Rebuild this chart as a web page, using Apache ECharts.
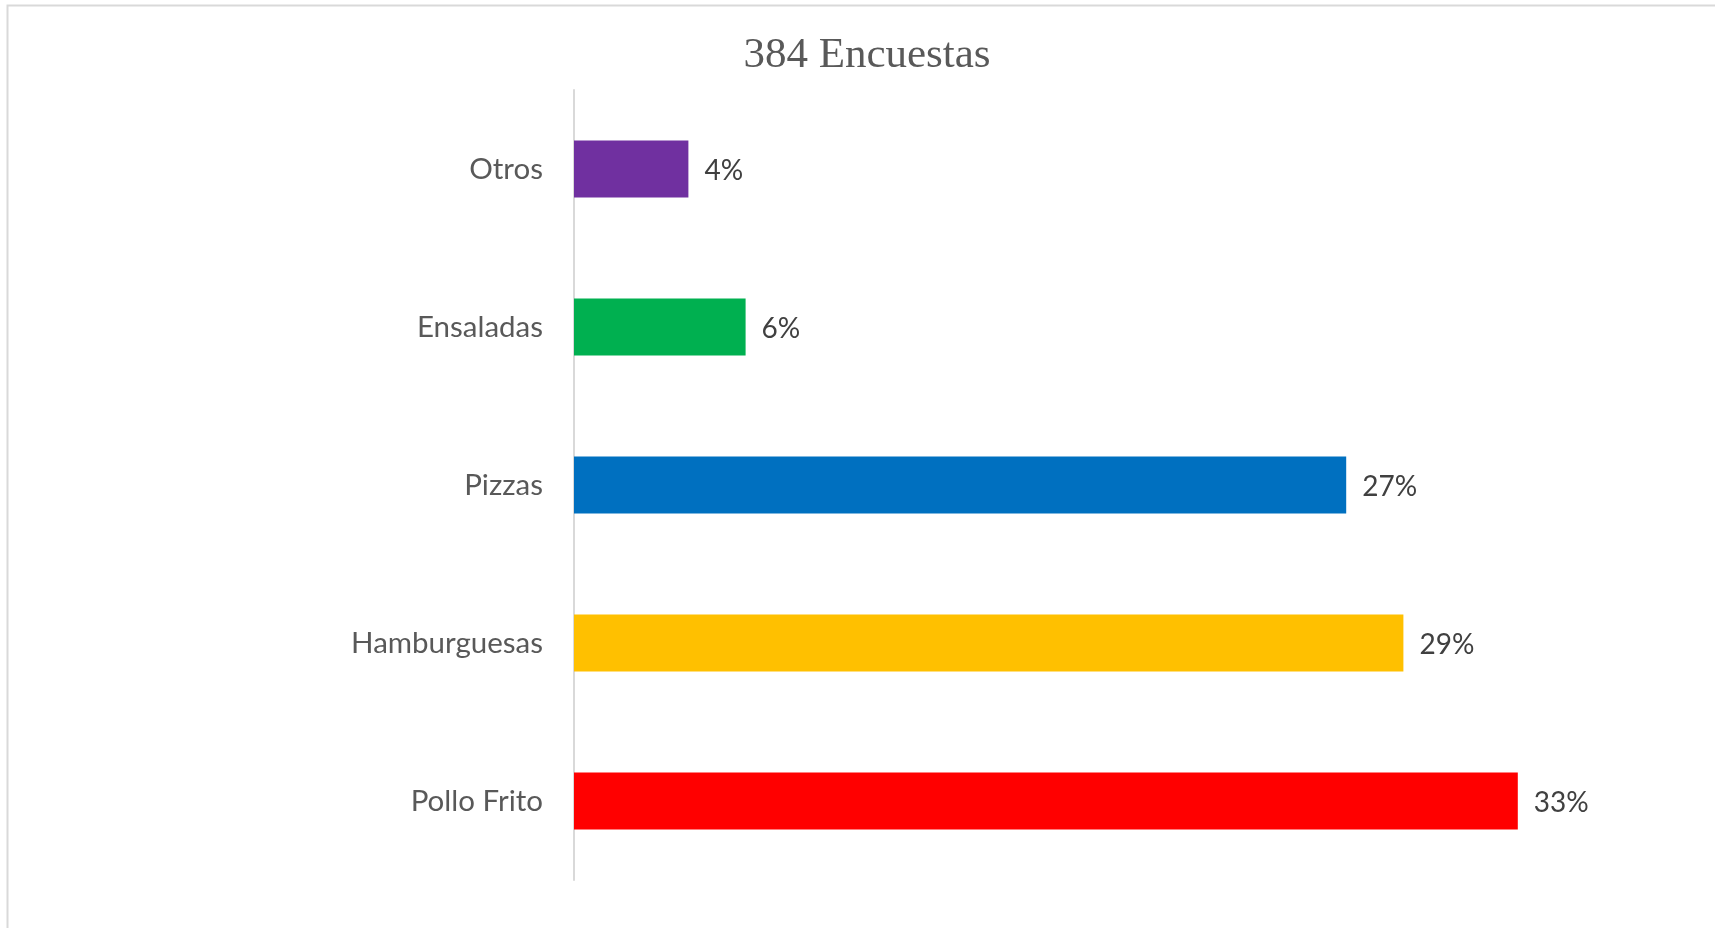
<!DOCTYPE html>
<html>
<head>
<meta charset="utf-8">
<script src="https://cdn.jsdelivr.net/npm/echarts@6/dist/echarts.min.js"></script>
<style>
  html, body { margin: 0; padding: 0; background: #ffffff; }
  #chart { width: 1715px; height: 928px; }
</style>
</head>
<body>
<div id="chart"></div>
<script>
// Survey results: preferred fast food (384 responses)
const categories = ['Pollo Frito', 'Hamburguesas', 'Pizzas', 'Ensaladas', 'Otros'];
const percentages = [33, 29, 27, 6, 4];
const barColors = ['#FF0000', '#FFC000', '#0070C0', '#00B050', '#7030A0'];
const titleText = '384 Encuestas';

const chart = echarts.init(document.getElementById('chart'), null, { renderer: 'canvas' });

chart.setOption({
  backgroundColor: '#ffffff',
  animation: false,
  title: {
    text: titleText,
    left: 862,
    textAlign: 'center',
    top: 29,
    textStyle: {
      fontFamily: '"Liberation Serif", "DejaVu Serif", serif',
      fontSize: 43,
      fontWeight: 'normal',
      color: '#595959'
    }
  },
  graphic: [{
    type: 'rect',
    shape: { x: 7.5, y: 5.5, width: 1800, height: 1000 },
    style: { fill: 'none', stroke: '#d9d9d9', lineWidth: 2 },
    silent: true
  }],
  grid: { left: 574, top: 90, bottom: 48, right: 140, containLabel: false },
  xAxis: {
    type: 'value',
    min: 0,
    max: 35,
    show: false,
    splitLine: { show: false }
  },
  yAxis: {
    type: 'category',
    data: categories,
    axisLine: { show: true, lineStyle: { color: '#d9d9d9', width: 2 } },
    axisTick: { show: false },
    axisLabel: {
      margin: 31,
      fontFamily: 'Lato, "Noto Sans", sans-serif',
      fontSize: 29.5,
      color: '#595959'
    }
  },
  series: [{
    type: 'bar',
    barWidth: '36%',
    data: percentages.map((v, i) => ({ value: v, itemStyle: { color: barColors[i] } })),
    label: {
      show: true,
      position: 'right',
      distance: 16,
      offset: [0, 2],
      formatter: '{c}%',
      fontFamily: 'Lato, "Noto Sans", sans-serif',
      fontSize: 28,
      color: '#404040'
    }
  }]
});
</script>
</body>
</html>
